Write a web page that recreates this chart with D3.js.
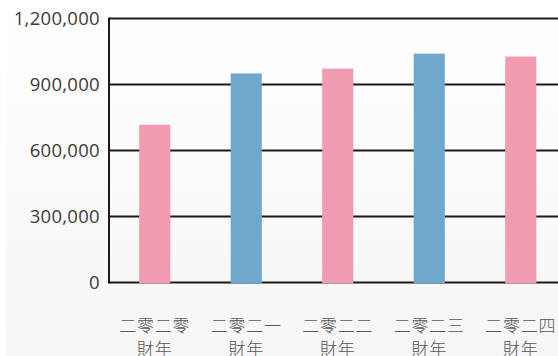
<!DOCTYPE html>
<html>
<head>
<meta charset="utf-8">
<script src="https://cdn.jsdelivr.net/npm/d3@7"></script>
<style>
  html, body { margin: 0; padding: 0; background: #ffffff; }
  svg { display: block; }
</style>
</head>
<body>
<svg id="chart" width="558" height="356"></svg>
<script>
// Annual totals by fiscal year
const years = ["二零二零", "二零二一", "二零二二", "二零二三", "二零二四"];
const yearSuffix = ["財年", "財年", "財年", "財年", "財年"];
const values = [715000, 948000, 970000, 1038000, 1025000];
const barColors = ["#f09bb0", "#6fa8cc", "#f09bb0", "#6fa8cc", "#f09bb0"];
const yTicks = [0, 300000, 600000, 900000, 1200000];

const W = 558, H = 356;
const plotLeft = 109, plotTop = 18, plotBottom = 282;

const svg = d3.select("#chart");

// soft panel background
const defs = svg.append("defs");
const grad = defs.append("linearGradient")
  .attr("id", "bg").attr("x1", 0).attr("y1", 0).attr("x2", 0).attr("y2", 1);
grad.append("stop").attr("offset", "0%").attr("stop-color", "#ffffff");
grad.append("stop").attr("offset", "100%").attr("stop-color", "#f6f6f6");
svg.append("rect").attr("x", 6).attr("y", 0).attr("width", W - 6).attr("height", H)
  .attr("fill", "url(#bg)");

const y = d3.scaleLinear().domain([0, 1200000]).range([plotBottom, plotTop]);
const x = d3.scaleBand().domain(years)
  .range([plotLeft, plotLeft + 5 * 91.5])
  .paddingInner(0.66).paddingOuter(0.33);

const ink = "#231815";

// horizontal grid lines
svg.append("g").selectAll("line").data(yTicks).join("line")
  .attr("x1", plotLeft).attr("x2", W)
  .attr("y1", d => y(d) + 0.5).attr("y2", d => y(d) + 0.5)
  .attr("stroke", ink).attr("stroke-width", 2);

// vertical axis line
svg.append("line")
  .attr("x1", plotLeft).attr("x2", plotLeft)
  .attr("y1", y(1200000) - 0.5).attr("y2", y(0) + 1.5)
  .attr("stroke", ink).attr("stroke-width", 2);

// y tick labels
svg.append("g").selectAll("text").data(yTicks).join("text")
  .attr("x", 100).attr("y", d => y(d) + 6.5)
  .attr("text-anchor", "end")
  .attr("font-family", "'Open Sans', 'Noto Sans', sans-serif")
  .attr("font-size", 18.5)
  .attr("letter-spacing", 0.3)
  .attr("fill", "#3e3a39")
  .text(d => d3.format(",")(d));

// bars
svg.append("g").selectAll("rect").data(values).join("rect")
  .attr("x", (d, i) => x(years[i]))
  .attr("width", x.bandwidth())
  .attr("y", d => y(d))
  .attr("height", d => y(0) + 1.5 - y(d))
  .attr("fill", (d, i) => barColors[i]);

// category labels (two lines)
const lab = svg.append("g").selectAll("text").data(years).join("text")
  .attr("text-anchor", "middle")
  .attr("font-family", "'Noto Sans CJK TC', 'Noto Sans CJK SC', sans-serif")
  .attr("font-weight", 300)
  .attr("font-size", 17)
  .attr("letter-spacing", 0.8)
  .attr("fill", "#595757");
lab.append("tspan")
  .attr("x", d => x(d) + x.bandwidth() / 2)
  .attr("y", 332)
  .text(d => d);
lab.append("tspan")
  .attr("x", d => x(d) + x.bandwidth() / 2)
  .attr("y", 355)
  .text((d, i) => yearSuffix[i]);
</script>
</body>
</html>
